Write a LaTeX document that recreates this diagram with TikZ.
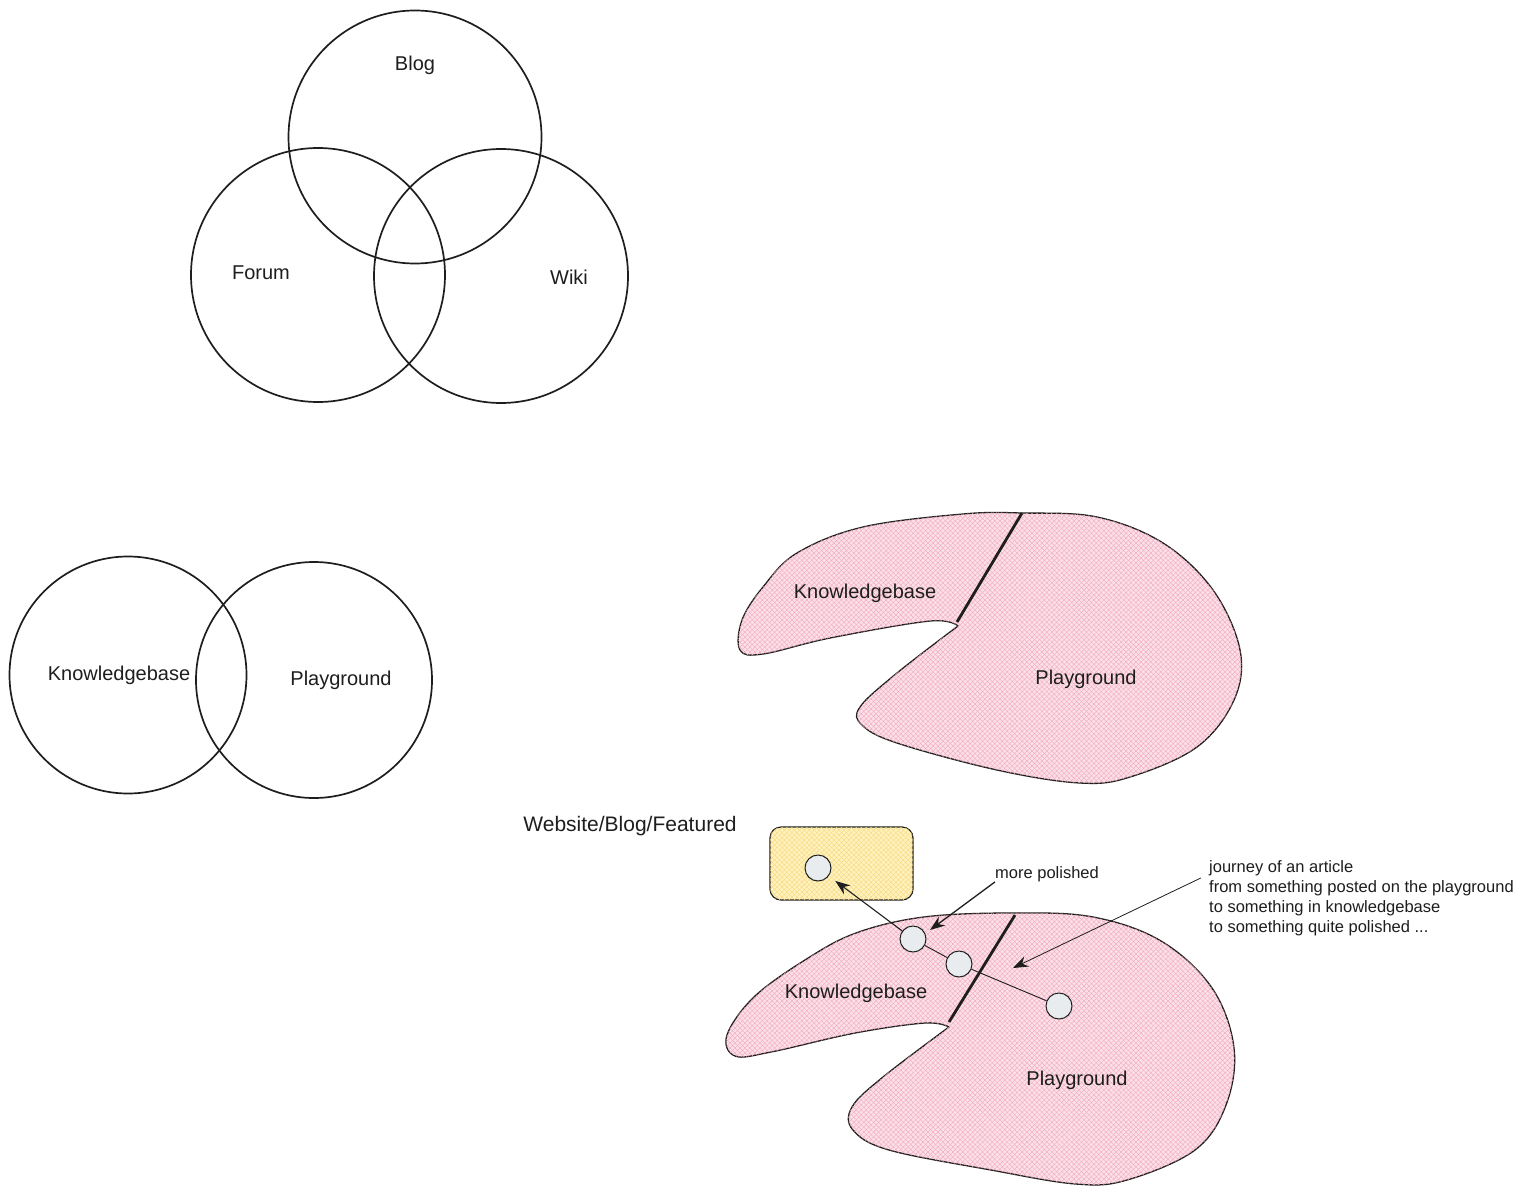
\documentclass[tikz,border=0pt]{standalone}
\usepackage{fontspec}
\setmainfont{Liberation Sans}
\usetikzlibrary{patterns.meta,arrows.meta}
\definecolor{blobfill}{RGB}{251,224,231}
\definecolor{blobhatch}{RGB}{242,165,188}
\definecolor{featfill}{RGB}{255,242,190}
\definecolor{feathatch}{RGB}{246,214,120}
\definecolor{dotfill}{RGB}{233,236,239}
\definecolor{ink}{RGB}{30,30,30}
\newcommand{\bigtxt}{\fontsize{20}{24}\selectfont}
\newcommand{\smalltxt}{\fontsize{16.5}{20}\selectfont}

\begin{document}
\begin{tikzpicture}[x=1pt,y=-1pt,>={Stealth[length=15pt,width=11pt]},
  hatch/.style={postaction={pattern color=#1,pattern={Lines[angle=45,distance=3.5pt,line width=.35pt]}},
    postaction={pattern color=#1,pattern={Lines[angle=-45,distance=3.5pt,line width=.35pt]}}},
  venn/.style={circle,draw=ink,line width=1.7pt,inner sep=0pt},
  lbl/.style={font=\bigtxt,text=ink,inner sep=0pt},
  note/.style={font=\smalltxt,text=ink,inner sep=0pt},
  blob/.style={draw=ink,line width=1.3pt,fill=blobfill,line join=round},
  split/.style={draw=ink,line width=2.8pt},
  dot/.style={circle,draw=ink,line width=1pt,fill=dotfill,minimum size=26pt,inner sep=0pt},
  featbox/.style={draw=ink,line width=1.2pt,fill=featfill,rounded corners=11pt,minimum width=143pt,minimum height=73pt}]
\useasboundingbox (0,0) rectangle (1540,1194);
\fill[white] (0,0) rectangle (1540,1194);

\node[venn,minimum size=253pt] (blog) at (415,137) {};
\node[venn,minimum size=254pt] (forum) at (318,275) {};
\node[venn,minimum size=254pt] (wiki) at (501,276) {};
\node[lbl] (blogtxt) at (415,65) {Blog};
\node[lbl] (forumtxt) at (261,273) {Forum};
\node[lbl] (wikitxt) at (569,277) {Wiki};

\node[venn,minimum size=237pt] (kbc) at (128,675) {};
\node[venn,minimum size=236pt] (pgc) at (314,680) {};
\node[lbl] (kbctxt) at (119,675) {Knowledgebase};
\node[lbl] (pgctxt) at (341,680) {Playground};

\path[blob,hatch=blobhatch] plot[smooth,tension=.6] coordinates {(958,626) (930,621) (830,638) (763,654) (740,650) (742,620) (763,587) (797,553) (863,527) (963,514) (1022,513) (1097,517) (1163,543) (1213,590) (1240,650) (1234,700) (1197,747) (1130,777) (1080,783) (997,770) (897,743) (862,725) (860,707) (897,673) (958,626)} -- cycle;
\draw[split] (1022,513) -- (957,622);
\node[lbl] (kbtop) at (865,593) {Knowledgebase};
\node[lbl] (pgtop) at (1086,679) {Playground};

\path[blob,hatch=blobhatch] plot[smooth,tension=.6] coordinates {(949,1027) (925,1023) (855,1033) (771,1052) (735,1056) (727,1035) (754,997) (805,960) (856,933) (924,917) (1014,913) (1093,917) (1161,941) (1212,988) (1234,1048) (1226,1105) (1195,1150) (1127,1180) (1076,1184) (991,1170) (889,1150) (853,1130) (852,1107) (883,1077) (949,1027)} -- cycle;
\draw[split] (1015,915) -- (949,1022);
\node[lbl] (kbbot) at (856,993) {Knowledgebase};
\node[lbl] (pgbot) at (1077,1080) {Playground};

\node[featbox,hatch=feathatch] (feat) at (841.5,863.5) {};
\node[lbl,font=\fontsize{21}{25}\selectfont] (feattxt) at (630,826) {Website/Blog/Featured};

\node[dot] (top) at (818,868) {};
\node[dot] (kb1) at (913,939) {};
\node[dot] (kb2) at (959,964) {};
\node[dot] (pg1) at (1059,1006) {};

\draw[ink,line width=.9pt] (kb1) -- (kb2) -- (pg1);
\draw[ink,line width=1.1pt,->,shorten >=8pt] (kb1) -- (top);

\node[note] (polished) at (1047,874) {more polished};
\coordinate (polishedtip) at (930,930);
\draw[ink,line width=1.3pt,->] (polished.south west) -- (polishedtip);

\node[note,anchor=north west,align=left] (journey) at (1209,860) {journey of an article\\from something posted on the playground\\to something in knowledgebase\\to something quite polished ...};
\coordinate (journeytip) at (1013,968);
\draw[ink,line width=.8pt,->] ([xshift=-8pt,yshift=20pt]journey.west) -- (journeytip);
\end{tikzpicture}
\end{document}
